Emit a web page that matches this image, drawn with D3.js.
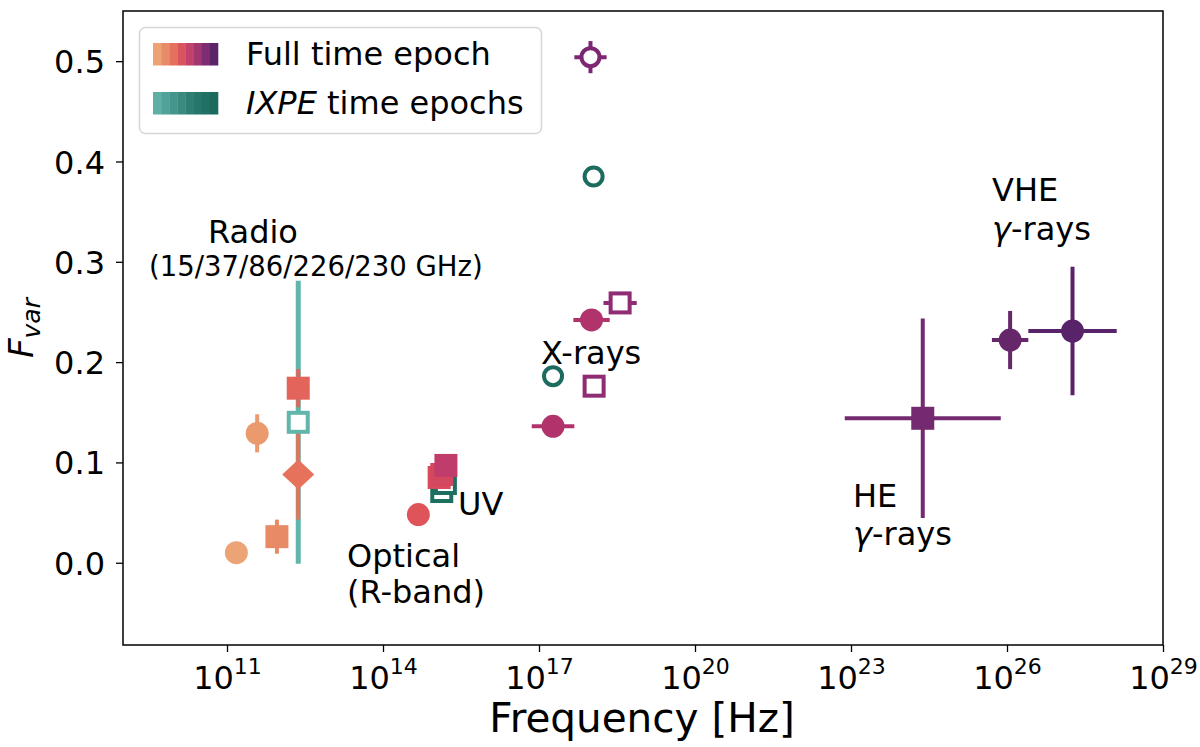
<!DOCTYPE html>
<meta charset="utf-8">
<style>
body { margin: 0; background: #fff; }
svg text { font-family: "DejaVu Sans", sans-serif; fill: #000; }
</style>
<svg id="chart" width="1200" height="747"></svg>
<script src="https://cdn.jsdelivr.net/npm/d3@7"></script>
<script>

// --- data ---
// log10 of frequency, Fvar, error in Fvar, error in log10 frequency
var pointNames = ["radio_a", "radio_b", "radio_c", "radio_ixpe", "radio_d", "radio_diamond",
  "optical", "uv_ixpe_1", "uv_ixpe_2", "uv_1", "uv_2", "uv_3",
  "xray_open_top", "xray_ixpe_1", "xray_sq_1", "xray_fill_1", "xray_ixpe_2", "xray_sq_2", "xray_fill_2",
  "he", "vhe_1", "vhe_2"];
var logNu   = [11.18, 11.58, 11.96, 12.37, 12.37, 12.37,
  14.68, 15.13, 15.20, 15.08, 15.13, 15.21,
  17.99, 18.05, 18.56, 18.01, 17.27, 18.06, 17.27,
  24.38, 26.06, 27.26];
var fvar    = [0.010, 0.129, 0.026, 0.140, 0.174, 0.088,
  0.048, 0.071, 0.079, 0.085, 0.088, 0.097,
  0.504, 0.385, 0.259, 0.242, 0.186, 0.176, 0.136,
  0.144, 0.222, 0.231];
var fvarErr = [0, 0.019, 0.017, 0.141, 0.019, 0.045,
  0, 0, 0, 0, 0, 0,
  0.016, 0, 0, 0, 0, 0, 0,
  0.0995, 0.029, 0.064];
var logNuErr = [0, 0, 0, 0, 0, 0,
  0, 0.1, 0, 0, 0, 0,
  0.31, 0, 0.32, 0.35, 0, 0, 0.41,
  1.5, 0.35, 0.85];
var markers = ["circle", "circle", "square", "square", "square", "diamond",
  "circle", "square", "square", "square", "square", "square",
  "circle", "circle", "square", "circle", "circle", "square", "circle",
  "square", "circle", "circle"];
var isOpen = [false, false, false, true, false, false,
  false, true, true, false, false, false,
  true, true, true, false, true, true, false,
  false, false, false];

// styles
var pointColors = ["#eca375", "#eb9a6e", "#e98a66", "#62b5aa", "#e3645a", "#e6725c",
  "#df5459", "#1e6f62", "#1e6f62", "#d84a5c", "#d3485f", "#c03c6a",
  "#7d2671", "#1b6b5f", "#8f2c73", "#b0346b", "#1b6b5f", "#8f2c73", "#b0346b",
  "#742a71", "#652769", "#59236a"];
var barWidths = [4, 4, 4, 5, 4, 4, 4, 3, 3, 4, 4, 4, 4, 4, 4, 4, 4, 4, 4, 4, 4, 4];

var xTicks = [11, 14, 17, 20, 23, 26, 29];
var yTicks = [0.0, 0.1, 0.2, 0.3, 0.4, 0.5];

var fullEpochColors = ["#eda373", "#e98b69", "#e4705e", "#d9545f", "#c1426a", "#a13771", "#7e2d72", "#5b2468"];
var ixpeEpochColors = ["#5fb0a4", "#4fa398", "#43968c", "#3a8a80", "#2f7e74", "#27766b", "#217064", "#1b6a5e"];

// --- scales ---
var pLeft = 123, pRight = 1163, pTop = 11, pBottom = 645;
var x = d3.scaleLog().domain([1e9, 1e29]).range([pLeft, pRight]);
var y = d3.scaleLinear().domain([-0.082, 0.55]).range([pBottom, pTop]);

var svg = d3.select("#chart");

var points = pointNames.map(function(n, i) {
  return { name: n, lx: logNu[i], f: fvar[i], fe: fvarErr[i], xe: logNuErr[i],
           m: markers[i], open: isOpen[i], c: pointColors[i], bw: barWidths[i] };
});

// error bars first
var bars = svg.append("g");
points.forEach(function(d) {
  if (d.fe > 0) {
    bars.append("line")
      .attr("x1", x(Math.pow(10, d.lx))).attr("x2", x(Math.pow(10, d.lx)))
      .attr("y1", y(d.f - d.fe)).attr("y2", y(d.f + d.fe))
      .attr("stroke", d.c).attr("stroke-width", d.bw);
  }
  if (d.xe > 0) {
    bars.append("line")
      .attr("x1", x(Math.pow(10, d.lx - d.xe))).attr("x2", x(Math.pow(10, d.lx + d.xe)))
      .attr("y1", y(d.f)).attr("y2", y(d.f))
      .attr("stroke", d.c).attr("stroke-width", d.bw);
  }
});

// markers
var marks = svg.append("g");
points.forEach(function(d) {
  var cx = x(Math.pow(10, d.lx)), cy = y(d.f);
  var fill = d.open ? "#fff" : d.c;
  if (d.m === "circle") {
    marks.append("circle").attr("cx", cx).attr("cy", cy)
      .attr("r", d.open ? 9 : 11.5)
      .attr("fill", fill)
      .attr("stroke", d.c).attr("stroke-width", d.open ? 4 : 0);
  } else if (d.m === "square") {
    var s = d.open ? 19 : 23;
    marks.append("rect").attr("x", cx - s / 2).attr("y", cy - s / 2)
      .attr("width", s).attr("height", s)
      .attr("fill", fill)
      .attr("stroke", d.c).attr("stroke-width", d.open ? 4 : 0);
  } else {
    marks.append("path")
      .attr("d", "M" + cx + "," + (cy - 15) + "L" + (cx + 16) + "," + cy + "L" + cx + "," + (cy + 15) + "L" + (cx - 16) + "," + cy + "Z")
      .attr("fill", fill);
  }
});

// --- axes ---
var xAxis = svg.append("g").attr("transform", "translate(0," + pBottom + ")")
  .call(d3.axisBottom(x).tickValues(xTicks.map(function(t) { return Math.pow(10, t); }))
    .tickSize(7).tickPadding(6).tickFormat(""));
xAxis.select(".domain").remove();
xAxis.selectAll("line").attr("stroke-width", 1.3);
xAxis.selectAll(".tick text").remove();

var xl = xAxis.selectAll(".tick").append("text")
  .attr("y", 44).attr("text-anchor", "middle").style("font-size", "32px");
xl.append("tspan").text("10");
xl.append("tspan").attr("dy", -15).style("font-size", "22px")
  .text(function(d) { return Math.round(Math.log10(d)); });

var yAxis = svg.append("g").attr("transform", "translate(" + pLeft + ",0)")
  .call(d3.axisLeft(y).tickValues(yTicks).tickSize(7).tickPadding(11).tickFormat(d3.format(".1f")));
yAxis.select(".domain").remove();
yAxis.selectAll("line").attr("stroke-width", 1.3);
yAxis.selectAll("text").style("font-size", "32px").attr("dy", "0.36em").style("font-family", "DejaVu Sans");

svg.append("rect").attr("x", pLeft).attr("y", pTop)
  .attr("width", pRight - pLeft).attr("height", pBottom - pTop)
  .attr("fill", "none").attr("stroke", "#000").attr("stroke-width", 1.5);

svg.append("text").attr("x", 642).attr("y", 732)
  .attr("text-anchor", "middle").style("font-size", "40.5px").text("Frequency [Hz]");

var yl = svg.append("text").attr("transform", "translate(33," + ((pTop + pBottom) / 2) + ") rotate(-90)")
  .attr("text-anchor", "middle").style("font-size", "34px");
yl.append("tspan").attr("font-style", "italic").text("F");
yl.append("tspan").attr("font-style", "italic").style("font-size", "25px").attr("dy", 7).text("var");

// --- annotations ---
function note(tx, ty, str, size, italicFirst) {
  var t = svg.append("text").attr("x", tx).attr("y", ty).style("font-size", size + "px");
  if (italicFirst) {
    t.append("tspan").attr("font-style", "italic").text(italicFirst);
  }
  t.append("tspan").text(str);
}
note(208, 243, "Radio", 32);
note(149, 276, "(15/37/86/226/230 GHz)", 27.5);
note(541, 364, "X-rays", 32);
note(458, 515, "UV", 32);
note(347, 567, "Optical", 32);
note(347, 603, "(R-band)", 32);
note(853, 507, "HE", 32);
note(853, 545, "-rays", 32, "\u03b3");
note(992, 201, "VHE", 32);
note(992, 240, "-rays", 32, "\u03b3");

// --- legend ---
var lg = svg.append("g");
lg.append("rect").attr("x", 139.5).attr("y", 27.5).attr("width", 402).attr("height", 106)
  .attr("rx", 6).attr("fill", "#fff").attr("fill-opacity", 0.8)
  .attr("stroke", "#d6d6d6").attr("stroke-width", 1.5);
var sw = 65 / fullEpochColors.length;
[fullEpochColors, ixpeEpochColors].forEach(function(cols, r) {
  cols.forEach(function(c, i) {
    lg.append("rect").attr("x", 153 + i * sw).attr("y", 43 + r * 49)
      .attr("width", sw + 0.3).attr("height", 22.5).attr("fill", c);
  });
});
lg.append("text").attr("x", 246).attr("y", 65).style("font-size", "32px").text("Full time epoch");
var l2 = lg.append("text").attr("x", 246).attr("y", 114).style("font-size", "32px");
l2.append("tspan").attr("font-style", "italic").text("IXPE");
l2.append("tspan").text(" time epochs");

</script>
